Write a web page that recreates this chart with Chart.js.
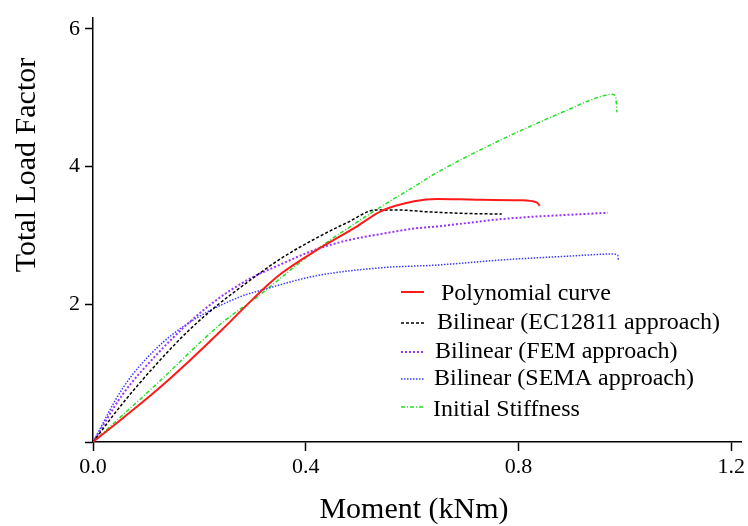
<!DOCTYPE html>
<html>
<head>
<meta charset="utf-8">
<script src="https://cdn.jsdelivr.net/npm/chart.js@4"></script>
<style>
  html, body { margin: 0; padding: 0; background: #fff; }
  canvas { display: block; }
</style>
</head>
<body>
<canvas id="loadChart" width="748" height="526"></canvas>
<script>
// series names (legend order)
var seriesNames = ['Polynomial curve', 'Bilinear (EC12811 approach)', 'Bilinear (FEM approach)',
    'Bilinear (SEMA approach)', 'Initial Stiffness'];

// Polynomial curve
var polyMoment = [0, 0.06, 0.118, 0.18, 0.2425, 0.292, 0.33, 0.3545, 0.4137, 0.498, 0.541, 0.604, 0.647, 0.72, 0.803, 0.834, 0.840];
var polyLoad   = [0, 0.37, 0.74, 1.17, 1.63, 2.01, 2.29, 2.45, 2.755, 3.14, 3.35, 3.495, 3.53, 3.52, 3.51, 3.48, 3.43];

// Bilinear (EC12811)
var ecMoment = [0, 0.0557, 0.118, 0.18, 0.236, 0.292, 0.3545, 0.417, 0.479, 0.532, 0.5725, 0.635, 0.70, 0.7686];
var ecLoad   = [0, 0.56, 1.12, 1.62, 2.0, 2.33, 2.67, 2.95, 3.19, 3.37, 3.37, 3.34, 3.32, 3.31];

// Bilinear (FEM)
var femMoment = [0, 0.0557, 0.118, 0.18, 0.23, 0.292, 0.35, 0.417, 0.479, 0.541, 0.604, 0.647, 0.772, 0.968];
var femLoad   = [0, 0.69, 1.255, 1.73, 2.05, 2.36, 2.57, 2.79, 2.93, 3.02, 3.10, 3.13, 3.24, 3.33];

// Bilinear (SEMA)
var semaMoment = [0, 0.0557, 0.118, 0.18, 0.2735, 0.3235, 0.417, 0.541, 0.647, 0.772, 0.896, 0.977, 0.9866, 0.988];
var semaLoad   = [0, 0.78, 1.35, 1.73, 2.10, 2.22, 2.41, 2.53, 2.57, 2.646, 2.70, 2.73, 2.71, 2.63];

// Initial stiffness
var initMoment = [0, 0.118, 0.2425, 0.311, 0.4137, 0.532, 0.604, 0.6485, 0.773, 0.8975, 0.9335, 0.977, 0.983, 0.985];
var initLoad   = [0, 0.83, 1.73, 2.12, 2.755, 3.37, 3.71, 3.92, 4.41, 4.84, 4.96, 5.05, 5.0, 4.79];

var xTicks = [0, 0.4, 0.8, 1.2];
var yTicks = [0, 2, 4, 6];
var xTitle = 'Moment (kNm)';
var yTitle = 'Total Load Factor';

function pts(xs, ys) {
    return xs.map(function (x, i) { return {x: x, y: ys[i]}; });
}

var styles = [
    {color: '#ff1a1a', width: 2, dash: []},
    {color: '#000000', width: 1.5, dash: [3, 2]},
    {color: '#9933ff', width: 2, dash: [2, 2]},
    {color: '#3b3bff', width: 1.5, dash: [1.5, 1.5]},
    {color: '#22e022', width: 1.5, dash: [4, 2, 1, 2]}
];
var series = [pts(polyMoment, polyLoad), pts(ecMoment, ecLoad), pts(femMoment, femLoad),
    pts(semaMoment, semaLoad), pts(initMoment, initLoad)];

var datasets = series.map(function (d, i) {
    return {
        label: seriesNames[i],
        data: d,
        borderColor: styles[i].color,
        borderWidth: styles[i].width,
        borderDash: styles[i].dash,
        pointRadius: 0,
        fill: false,
        cubicInterpolationMode: 'monotone'
    };
});

var serif = '"Liberation Serif", "Times New Roman", serif';

// legend rows + axis titles drawn by hand
var legendBase = [300, 329, 358, 385, 416];
var legendLineY = [292, 323, 352, 379, 407];
var legendTextX = [441, 437, 435, 434, 433];

var overlay = {
    id: 'overlay',
    afterDraw: function (chart) {
        var ctx = chart.ctx;
        ctx.save();
        ctx.fillStyle = '#000';
        ctx.font = '30px ' + serif;
        ctx.textAlign = 'center';
        ctx.textBaseline = 'alphabetic';
        ctx.fillText(xTitle, 414, 518);
        ctx.save();
        ctx.translate(35, 165);
        ctx.rotate(-Math.PI / 2);
        ctx.fillText(yTitle, 0, 0);
        ctx.restore();

        ctx.font = '24px ' + serif;
        ctx.textAlign = 'left';
        for (var i = 0; i < seriesNames.length; i++) {
            ctx.beginPath();
            ctx.strokeStyle = styles[i].color;
            ctx.lineWidth = styles[i].width;
            ctx.setLineDash(styles[i].dash);
            ctx.moveTo(401, legendLineY[i]);
            ctx.lineTo(424, legendLineY[i]);
            ctx.stroke();
            ctx.setLineDash([]);
            ctx.fillText(seriesNames[i], legendTextX[i], legendBase[i]);
        }
        ctx.restore();
    }
};

new Chart(document.getElementById('loadChart'), {
    type: 'line',
    data: {datasets: datasets},
    plugins: [overlay],
    options: {
        responsive: false,
        animation: false,
        layout: {padding: {top: 7, right: 2, left: 0, bottom: 0}},
        plugins: {legend: {display: false}, tooltip: {enabled: false}},
        scales: {
            x: {
                type: 'linear',
                min: 0,
                max: 1.219,
                afterBuildTicks: function (scale) {
                    scale.ticks = xTicks.map(function (v) { return {value: v}; });
                },
                afterFit: function (scale) { scale.height = 84; },
                ticks: {
                    color: '#000',
                    font: {family: serif, size: 22},
                    padding: 3,
                    maxRotation: 0,
                    callback: function (v) { return Number(v).toFixed(1); }
                },
                grid: {
                    drawOnChartArea: false,
                    tickLength: 9,
                    tickWidth: 1.5,
                    color: '#000'
                },
                border: {display: true, color: '#000', width: 1.5}
            },
            y: {
                type: 'linear',
                min: 0,
                max: 6.155,
                afterBuildTicks: function (scale) {
                    scale.ticks = yTicks.map(function (v) { return {value: v}; });
                },
                afterFit: function (scale) { scale.width = 93; },
                ticks: {
                    color: '#000',
                    font: {family: serif, size: 22},
                    padding: 5,
                    callback: function (v) { return v === 0 ? '' : String(v); }
                },
                grid: {
                    drawOnChartArea: false,
                    tickLength: 8,
                    tickWidth: 1.5,
                    color: '#000'
                },
                border: {display: true, color: '#000', width: 1.5}
            }
        }
    }
});
</script>
</body>
</html>
